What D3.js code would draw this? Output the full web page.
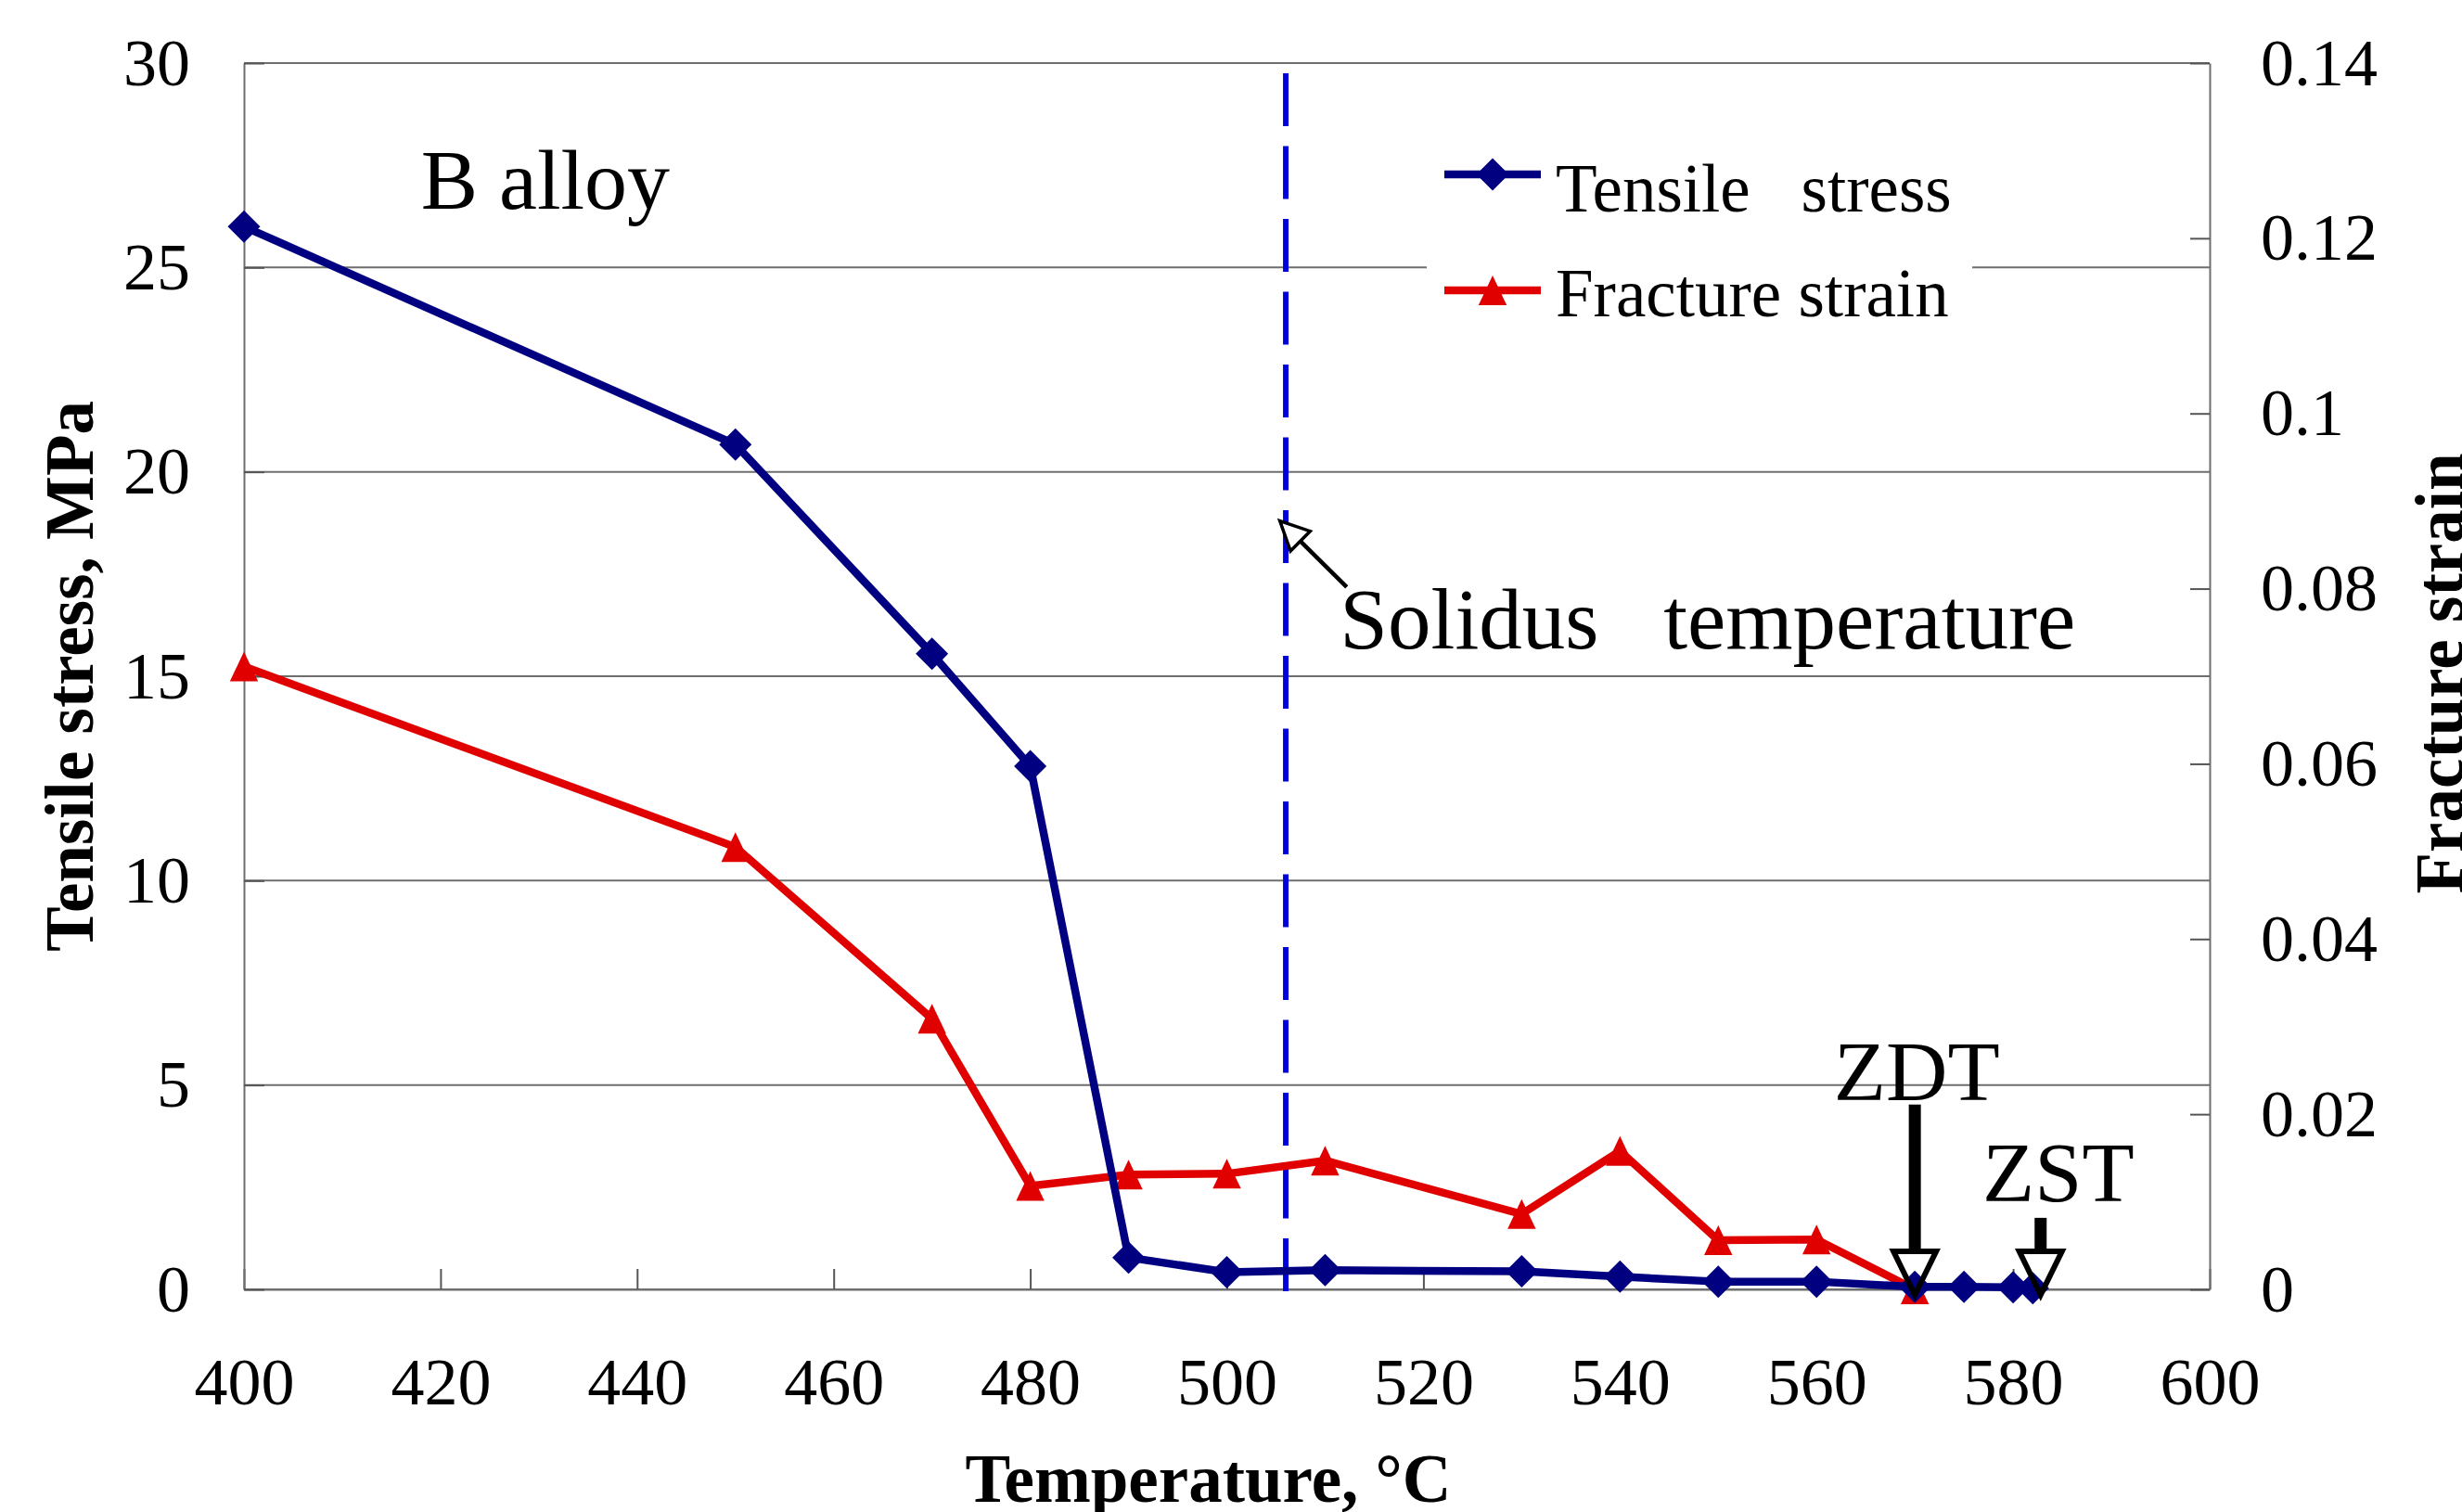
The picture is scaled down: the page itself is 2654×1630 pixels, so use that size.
<!DOCTYPE html>
<html><head><meta charset="utf-8">
<script src="https://cdn.jsdelivr.net/npm/d3@7"></script>
<style>
html,body{margin:0;padding:0;background:#fff;overflow:hidden;}
svg{display:block;}
</style></head><body>
<svg id="chart" width="2654" height="1630"></svg>
<script>
// ---------------- data ----------------
const temperatures = [400, 450, 470, 480, 490, 500, 510, 530, 540, 550, 560, 570, 575, 580, 582];
const tensileStress = [26.0, 20.67, 15.55, 12.8, 0.78, 0.42, 0.47, 0.44, 0.31, 0.19, 0.19, 0.06, 0.06, 0.05, 0.03];
const strainTemperatures = [400, 450, 470, 480, 490, 500, 510, 530, 540, 550, 560, 570];
const fractureStrain = [0.0711, 0.0505, 0.0309, 0.0118, 0.0131, 0.0132, 0.0147, 0.0086, 0.0158, 0.0056, 0.0057, 0.0];
const xTicks = [400, 420, 440, 460, 480, 500, 520, 540, 560, 580, 600];
const leftTicks = [0, 5, 10, 15, 20, 25, 30];
const rightTicks = [0, 0.02, 0.04, 0.06, 0.08, 0.1, 0.12, 0.14];
const rightTickLabels = ["0", "0.02", "0.04", "0.06", "0.08", "0.1", "0.12", "0.14"];
const seriesNames = ["Tensile\u00a0\u00a0 stress", "Fracture strain"];
const xTitle = "Temperature, \u00b0C";
const leftTitle = "Tensile stress, MPa";
const rightTitle = "Fracture strain";
const alloyLabel = "B alloy";
const solidusTemperature = 506;
const solidusLabel = "Solidus\u00a0\u00a0 temperature";
const zoneTemps = [570, 582.8];
const zoneLabels = ["ZDT", "ZST"];

// ---------------- setup ----------------
const FONT = '"Liberation Serif","Times New Roman",serif';
const svg = d3.select("#chart");
svg.append("rect").attr("width", 2654).attr("height", 1630).attr("fill", "#fff");
const L = 263, R = 2382, T = 68, B = 1390;
const x = d3.scaleLinear().domain([400, 600]).range([L, R]);
const yL = d3.scaleLinear().domain([0, 30]).range([B, T]);
const yR = d3.scaleLinear().domain([0, 0.14]).range([B, T]);

const BLUE = "#000080", RED = "#e00000";

// gridlines
svg.append("g").selectAll("line").data(leftTicks).join("line")
  .attr("x1", L).attr("x2", R)
  .attr("y1", d => yL(d)).attr("y2", d => yL(d))
  .attr("stroke", "#6e6e6e").attr("stroke-width", 2);

// axes
function styleAxis(g) {
  g.attr("font-family", FONT).attr("font-size", 72);
  g.select(".domain").attr("stroke", "#6e6e6e").attr("stroke-width", 2);
  g.selectAll(".tick line").attr("stroke", "#555").attr("stroke-width", 2);
  g.selectAll(".tick text").attr("fill", "#000");
}
svg.append("g").attr("transform", `translate(0,${B})`)
  .call(d3.axisBottom(x).tickValues(xTicks).tickSizeInner(-22).tickSizeOuter(0).tickPadding(73).tickFormat(d3.format("d")))
  .call(styleAxis);
svg.append("g").attr("transform", `translate(${L},0)`)
  .call(d3.axisLeft(yL).tickValues(leftTicks).tickSizeInner(-22).tickSizeOuter(0).tickPadding(58).tickFormat(d3.format("d")))
  .call(styleAxis);
svg.append("g").attr("transform", `translate(${R},0)`)
  .call(d3.axisRight(yR).tickValues(rightTicks).tickSizeInner(-21).tickSizeOuter(0).tickPadding(55).tickFormat((d, i) => rightTickLabels[i]))
  .call(styleAxis);

// axis titles
svg.append("text").attr("x", (L + R) / 2 - 20).attr("y", 1619)
  .attr("text-anchor", "middle").attr("font-family", FONT).attr("font-weight", "bold").attr("font-size", 73)
  .text(xTitle);
svg.append("text").attr("transform", `translate(100,${(T + B) / 2}) rotate(-90)`)
  .attr("text-anchor", "middle").attr("font-family", FONT).attr("font-weight", "bold").attr("font-size", 73)
  .text(leftTitle);
svg.append("text").attr("transform", `translate(2655,${(T + B) / 2 - 3}) rotate(-90)`)
  .attr("text-anchor", "middle").attr("font-family", FONT).attr("font-weight", "bold").attr("font-size", 73)
  .text(rightTitle);

// solidus dashed line
svg.append("line")
  .attr("x1", x(solidusTemperature)).attr("x2", x(solidusTemperature))
  .attr("y1", yL(30) + 11).attr("y2", yL(0) + 4)
  .attr("stroke", "#0000dd").attr("stroke-width", 6).attr("stroke-dasharray", "57,21.5");

// custom symbols
const diamond = { draw(ctx, size) { const r = Math.sqrt(size) / 2; ctx.moveTo(0, -r); ctx.lineTo(r, 0); ctx.lineTo(0, r); ctx.lineTo(-r, 0); ctx.closePath(); } };
const tri = { draw(ctx, size) { const h = Math.sqrt(size) / 2; ctx.moveTo(0, -h); ctx.lineTo(h * 0.95, h); ctx.lineTo(-h * 0.95, h); ctx.closePath(); } };

// series
const stressData = temperatures.map((t, i) => [t, tensileStress[i]]);
const strainData = strainTemperatures.map((t, i) => [t, fractureStrain[i]]);

svg.append("path").datum(strainData)
  .attr("d", d3.line().x(d => x(d[0])).y(d => yR(d[1])))
  .attr("fill", "none").attr("stroke", RED).attr("stroke-width", 8.5).attr("stroke-linejoin", "round");
svg.append("g").selectAll("path").data(strainData).join("path")
  .attr("transform", d => `translate(${x(d[0])},${yR(d[1])})`)
  .attr("d", d3.symbol(tri, 32 * 32)).attr("fill", RED);

svg.append("path").datum(stressData)
  .attr("d", d3.line().x(d => x(d[0])).y(d => yL(d[1])))
  .attr("fill", "none").attr("stroke", BLUE).attr("stroke-width", 8.5).attr("stroke-linejoin", "round");
svg.append("g").selectAll("path").data(stressData).join("path")
  .attr("transform", d => `translate(${x(d[0])},${yL(d[1])})`)
  .attr("d", d3.symbol(diamond, 35 * 35)).attr("fill", BLUE);

// legend
const leg = svg.append("g");
leg.append("rect").attr("x", 1538).attr("y", 140).attr("width", 588).attr("height", 225).attr("fill", "#fff");
const legY = [188, 313], legTextY = [228, 341];
seriesNames.forEach((name, i) => {
  const col = i === 0 ? BLUE : RED;
  leg.append("line").attr("x1", 1557).attr("x2", 1661).attr("y1", legY[i]).attr("y2", legY[i])
    .attr("stroke", col).attr("stroke-width", 8.5);
  leg.append("path").attr("transform", `translate(1609,${legY[i]})`)
    .attr("d", d3.symbol(i === 0 ? diamond : tri, i === 0 ? 35 * 35 : 32 * 32)).attr("fill", col);
  leg.append("text").attr("x", 1677).attr("y", legTextY[i])
    .attr("font-family", FONT).attr("font-size", 73).style("white-space", "pre").text(name);
});

// B alloy label
svg.append("text").attr("x", x(418)).attr("y", yL(26.44))
  .attr("font-family", FONT).attr("font-size", 92).text(alloyLabel);

// Solidus annotation
svg.append("text").attr("x", x(511.5)).attr("y", yL(15.68))
  .attr("font-family", FONT).attr("font-size", 93).style("white-space", "pre").text(solidusLabel);
{
  const tip = [x(505.4), yL(18.8)], tail = [x(512.2), yL(17.18)];
  const dx = tail[0] - tip[0], dy = tail[1] - tip[1], len = Math.hypot(dx, dy);
  const ux = dx / len, uy = dy / len, hl = 31, hw = 15;
  const bc = [tip[0] + ux * hl, tip[1] + uy * hl];
  svg.append("line").attr("x1", bc[0]).attr("y1", bc[1]).attr("x2", tail[0]).attr("y2", tail[1])
    .attr("stroke", "#000").attr("stroke-width", 4.5);
  svg.append("path")
    .attr("d", `M${tip[0]},${tip[1]}L${bc[0] - uy * hw},${bc[1] + ux * hw}L${bc[0] + uy * hw},${bc[1] - ux * hw}Z`)
    .attr("fill", "#fff").attr("stroke", "#000").attr("stroke-width", 3.5).attr("stroke-linejoin", "miter");
}

// ZDT / ZST arrows
const zoneShaftTop = [4.52, 1.75];
const zoneLabelPos = [[570.2, 4.63], [584.6, 2.16]];
zoneTemps.forEach((t, i) => {
  const cx = x(t), headTop = yL(0) - 41, tipY = yL(0) + 6;
  svg.append("line").attr("x1", cx).attr("x2", cx).attr("y1", yL(zoneShaftTop[i])).attr("y2", headTop)
    .attr("stroke", "#000").attr("stroke-width", 13);
  svg.append("path").attr("d", `M${cx - 23},${headTop}L${cx + 23},${headTop}L${cx},${tipY}Z`)
    .attr("fill", "none").attr("stroke", "#000").attr("stroke-width", 6).attr("stroke-linejoin", "miter");
  svg.append("text").attr("x", x(zoneLabelPos[i][0])).attr("y", yL(zoneLabelPos[i][1]))
    .attr("text-anchor", "middle").attr("font-family", FONT).attr("font-size", 92).text(zoneLabels[i]);
});
</script>
</body></html>
